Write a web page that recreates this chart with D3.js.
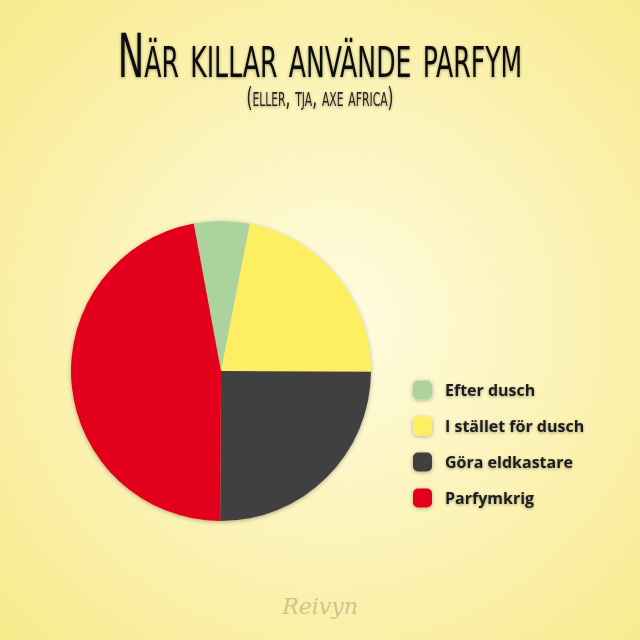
<!DOCTYPE html>
<html>
<head>
<meta charset="utf-8">
<script src="https://cdn.jsdelivr.net/npm/d3@7"></script>
<style>
  html, body { margin: 0; padding: 0; }
  body { width: 640px; height: 640px; overflow: hidden; }
</style>
</head>
<body>
<div class="chart"></div>
<script>
// data
const categories = ["Efter dusch", "I stället för dusch", "Göra eldkastare", "Parfymkrig"];
const values = [6, 22, 25, 47];
const colors = ["#acd39e", "#fdee62", "#404040", "#e3061a"];

const title = "När killar använde parfym";
const subtitle = "(eller, tja, axe africa)";

let width = 640, height = 640;

let svg = d3.select(".chart")
  .append("svg")
  .attr("width", width)
  .attr("height", height);

let defs = svg.append("defs");

let bg = defs.append("radialGradient")
  .attr("id", "bg")
  .attr("cx", "52%").attr("cy", "50%").attr("r", "72%");
bg.append("stop").attr("offset", "0%").attr("stop-color", "#fffce2");
bg.append("stop").attr("offset", "100%").attr("stop-color", "#f8ea8c");

let shadow = defs.append("filter")
  .attr("id", "shadow")
  .attr("x", "-20%").attr("y", "-20%").attr("width", "140%").attr("height", "140%");
shadow.append("feDropShadow")
  .attr("dx", 0).attr("dy", 1).attr("stdDeviation", 2)
  .attr("flood-color", "#000").attr("flood-opacity", 0.3);

let textShadow = defs.append("filter")
  .attr("id", "tshadow")
  .attr("x", "-10%").attr("y", "-30%").attr("width", "120%").attr("height", "160%");
textShadow.append("feDropShadow")
  .attr("dx", 0).attr("dy", 1).attr("stdDeviation", 1.5)
  .attr("flood-color", "#000").attr("flood-opacity", 0.35);

svg.append("rect")
  .attr("width", width).attr("height", height)
  .attr("fill", "url(#bg)");

// titles - squeezed horizontally so the condensed font looks narrow and tall
function squeezed(txt, y, size, w, color) {
  let holder = svg.append("g").attr("filter", "url(#tshadow)");
  let t = holder.append("text")
    .attr("text-anchor", "middle")
    .style("font-family", "'DejaVu Sans Condensed', 'DejaVu Sans'")
    .style("font-variant", "small-caps")
    .style("font-size", size + "px")
    .attr("fill", color)
    .text(txt);
  let sx = w / t.node().getComputedTextLength();
  t.attr("transform", "translate(320," + y + ") scale(" + sx + ",1)");
}

squeezed(title, 77, 60, 400, "#111");
squeezed(subtitle, 106, 27, 146, "#222");

// pie
let radius = 150;
let offset = -10.5 * Math.PI / 180;

let pie = d3.pie()
  .sort(null)
  .startAngle(offset)
  .endAngle(offset + 2 * Math.PI);

let arc = d3.arc()
  .innerRadius(0)
  .outerRadius(radius);

let g = svg.append("g")
  .attr("transform", "translate(221,371)")
  .attr("filter", "url(#shadow)");

g.selectAll(".slice")
  .data(pie(values))
  .enter().append("path")
  .attr("class", "slice")
  .attr("d", arc)
  .attr("fill", (d, i) => colors[i]);

// legend
let y = d3.scaleBand()
  .domain(categories)
  .range([372, 516]);

let legend = svg.selectAll(".legend")
  .data(categories)
  .enter().append("g")
  .attr("class", "legend")
  .attr("transform", d => "translate(413," + (y(d) + y.bandwidth() / 2) + ")");

legend.append("rect")
  .attr("x", 0).attr("y", -9.5)
  .attr("width", 19).attr("height", 19)
  .attr("rx", 5)
  .attr("fill", (d, i) => colors[i])
  .attr("filter", "url(#shadow)");

legend.append("text")
  .attr("x", 32).attr("y", 5.5)
  .style("font-family", "'Open Sans', Roboto, sans-serif")
  .style("font-weight", "bold")
  .style("font-size", "16px")
  .attr("fill", "#1e1e1e")
  .attr("filter", "url(#tshadow)")
  .text(d => d);

// watermark
svg.append("text")
  .attr("x", 320).attr("y", 614)
  .attr("text-anchor", "middle")
  .style("font-family", "'DejaVu Serif', serif")
  .style("font-style", "italic")
  .style("font-size", "22px")
  .attr("fill", "#cfc58e")
  .text("Reivyn");
</script>
</body>
</html>
